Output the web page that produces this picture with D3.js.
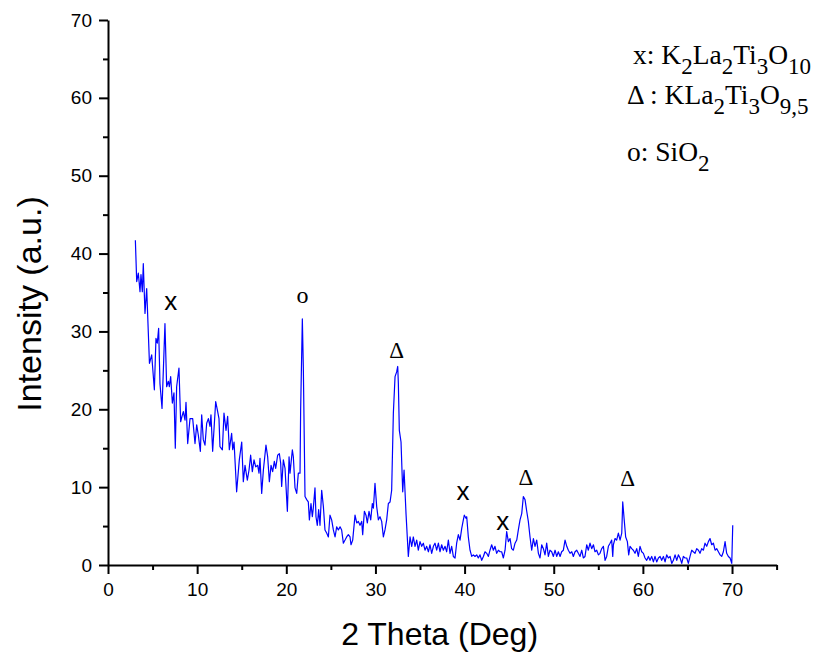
<!DOCTYPE html>
<html>
<head>
<meta charset="utf-8">
<script src="https://cdn.jsdelivr.net/npm/d3@7"></script>
<style>
  body { margin: 0; background: #fff; }
  svg { display: block; }
  .axis path, .axis line { stroke: #000; stroke-width: 2px; }
  .axis text { font-family: "Liberation Sans", Arial, sans-serif; font-size: 19px; fill: #000; }
  .title { font-family: "Liberation Sans", Arial, sans-serif; font-size: 32px; fill: #000; }
  .legend { font-family: "Liberation Serif", "Times New Roman", serif; font-size: 27.5px; fill: #000; }
  .trace { fill: none; stroke: #0000ff; stroke-width: 1.2px; stroke-linejoin: round; }
</style>
</head>
<body>
<svg id="chart" width="821" height="657"></svg>
<script>
// XRD pattern
const twoTheta = [
  3.07,3.22,3.40,3.59,3.70,3.85,3.96,4.15,4.34,4.65,4.90,5.20,5.38,5.53,5.68,5.83,6.06,6.39,6.58,6.77,
  6.88,7.03,7.22,7.40,7.55,7.70,7.96,8.15,8.30,8.45,8.64,8.75,8.94,9.20,9.50,9.76,9.95,10.13,10.36,10.51,
  10.69,10.88,11.07,11.26,11.44,11.55,11.74,12.08,12.27,12.45,12.56,12.83,13.01,13.24,13.42,13.61,
  13.87,13.99,14.14,14.43,14.73,15.00,15.18,15.37,15.63,15.82,16.00,16.19,16.38,16.57,16.79,16.94,17.05,17.24,17.43,17.72,
  17.91,18.10,18.29,18.47,18.66,18.81,19.03,19.22,19.37,19.48,19.67,19.86,20.12,20.31,20.42,20.68,20.79,20.98,21.17,21.35,
  21.54,21.61,21.80,21.91,22.10,22.29,22.47,22.59,22.77,22.92,23.03,23.22,23.33,23.48,23.63,23.78,23.97,24.16,24.34,24.53,
  24.72,24.90,25.09,25.28,25.47,25.65,25.84,26.03,26.21,26.40,26.59,26.77,
  26.96,27.15,27.26,27.45,27.71,27.90,28.08,28.27,28.46,28.57,28.76,28.94,29.09,29.28,29.47,29.65,29.77,29.95,30.14,30.33,
  30.51,30.70,30.89,31.07,31.26,31.45,31.64,31.82,32.01,32.20,32.38,32.50,32.57,32.68,32.87,33.06,33.21,33.43,33.69,33.88,
  34.07,34.25,34.44,34.63,34.81,35.00,35.19,35.37,35.56,35.75,35.94,36.12,36.31,36.50,36.68,36.87,37.06,37.24,37.43,37.62,
  37.81,37.99,38.18,38.37,38.55,38.74,38.93,39.11,39.30,
  39.49,39.68,39.86,39.97,40.16,40.24,40.42,40.61,40.80,40.98,41.17,41.36,41.54,41.73,41.92,42.11,42.29,42.48,42.67,42.85,
  43.04,43.23,43.41,43.60,43.79,43.98,44.16,44.35,44.54,44.72,44.91,45.10,45.28,45.47,45.66,45.85,46.03,46.22,46.41,46.59,
  46.78,46.97,47.15,47.34,47.53,47.72,47.90,48.09,48.28,48.46,48.65,48.84,49.02,49.21,49.40,49.58,49.77,49.96,50.15,50.33,
  50.52,50.71,50.89,51.08,51.27,51.46,51.64,51.83,52.02,52.20,52.39,52.58,52.76,52.95,53.14,53.32,53.51,53.70,53.88,54.07,
  54.26,54.45,54.63,54.82,55.01,
  55.19,55.38,55.57,55.76,55.94,56.13,56.32,56.50,56.62,56.69,56.88,57.06,57.25,57.44,57.63,57.74,57.89,58.07,58.26,58.41,
  58.56,58.75,58.93,59.12,59.31,59.49,59.68,59.87,60.06,60.24,60.43,60.62,60.80,60.99,61.18,61.36,61.55,61.74,61.93,62.11,
  62.30,62.49,62.67,62.86,63.05,63.24,63.42,63.61,63.80,63.98,64.17,64.36,64.54,64.73,64.92,65.10,65.29,65.48,65.66,65.85,
  66.04,66.23,66.41,66.60,66.79,66.97,67.16,67.35,67.53,67.72,67.91,68.10,68.28,68.47,68.66,68.84,69.03,69.22,69.40,69.59,
  69.78,69.97,70.08
];
const intensity = [
  41.7,36.4,37.5,35.1,37.3,35.1,38.7,32.3,35.5,25.9,27.0,22.5,29.1,28.5,30.4,23.3,20.1,31.0,22.9,23.6,
  22.9,24.2,20.8,22.1,15.0,22.9,25.3,18.4,19.1,19.7,18.6,20.9,15.6,18.8,18.8,15.6,18.0,16.7,14.6,19.3,
  16.1,15.4,18.2,18.8,17.8,19.3,14.6,21.0,19.9,18.8,15.2,14.8,19.5,17.3,19.1,14.8,
  16.9,14.8,15.8,9.4,13.5,15.8,10.7,12.8,10.9,12.2,14.1,12.0,13.5,12.6,12.8,11.8,13.7,9.2,12.2,15.4,
  13.9,10.7,12.8,12.0,13.3,12.4,14.1,14.3,13.1,10.1,13.5,12.4,6.9,13.9,11.8,14.8,13.9,9.9,9.2,11.8,
  11.8,19.9,31.6,25.5,8.8,8.4,8.1,5.8,7.9,6.2,7.3,9.9,6.2,5.1,7.1,5.1,9.6,7.5,4.5,4.1,
  3.6,6.4,5.8,4.5,3.6,4.9,4.5,4.9,4.5,2.8,3.2,3.6,
  3.9,3.6,2.6,3.2,6.4,5.4,5.6,5.1,5.6,3.9,6.9,6.4,5.4,6.9,5.8,7.9,7.3,10.5,7.5,5.8,
  6.2,5.6,3.6,4.5,5.8,7.9,8.1,9.6,19.5,24.2,24.8,25.5,23.3,17.3,15.8,9.4,12.2,6.6,1.1,3.6,
  2.4,3.6,2.4,3.2,1.9,3.0,2.4,2.8,1.9,2.4,1.7,2.6,1.5,2.4,2.8,1.9,2.8,1.7,2.6,1.9,
  2.4,1.7,3.2,1.5,2.4,1.1,0.9,2.8,3.9,
  3.2,4.7,5.8,6.4,6.0,6.2,3.6,1.9,1.1,1.3,1.1,1.3,0.9,1.3,0.6,1.1,1.7,1.5,1.1,1.9,
  2.6,1.9,2.4,1.5,1.9,1.7,1.7,0.9,1.9,4.3,3.0,3.4,2.1,1.9,2.8,3.2,4.5,5.8,6.6,8.8,
  8.4,6.9,5.6,3.6,1.9,3.4,2.4,3.2,1.5,0.9,2.6,2.1,1.3,2.8,1.1,1.9,1.7,1.1,1.9,1.1,
  1.7,1.1,1.7,1.9,3.2,2.4,1.9,1.5,1.7,1.1,1.7,1.9,1.5,1.1,1.9,0.9,1.1,2.6,1.9,2.8,
  2.1,2.6,1.7,1.9,1.3,
  1.5,2.1,2.4,0.6,1.1,2.4,2.8,3.2,1.1,2.6,3.4,3.2,4.1,3.2,4.1,8.1,6.0,3.6,3.0,1.3,
  2.4,2.1,1.9,1.5,2.1,1.1,2.4,1.7,1.5,0.9,0.6,1.1,0.6,1.1,0.4,1.1,0.4,0.9,1.1,0.6,
  1.1,0.4,1.3,0.9,1.1,0.2,0.6,1.3,0.6,1.3,0.9,0.2,1.1,0.9,0.9,0.2,1.1,1.9,1.7,1.5,
  2.1,1.9,1.5,2.1,1.9,2.8,2.4,3.0,3.4,2.6,2.8,1.9,2.1,1.7,1.3,1.1,1.7,3.0,1.5,1.1,
  0.9,0.2,5.1
];

const xTicks = [0, 10, 20, 30, 40, 50, 60, 70];
const xMinorTicks = [5, 15, 25, 35, 45, 55, 65, 75];
const yTicks = [0, 10, 20, 30, 40, 50, 60, 70];
const yMinorTicks = [5, 15, 25, 35, 45, 55, 65];

// phase markers above the peaks
const peakSymbols = ["x", "o", "\u0394", "x", "x", "\u0394", "\u0394"];
const peakTheta = [7.05, 21.82, 32.38, 39.82, 44.28, 46.89, 58.28];
const peakLevel = [33.6, 34.3, 27.5, 9.2, 5.4, 11.3, 11.1];

// legend lines: even items normal, odd items subscript
const legendLines = [
  ["x: K", "2", "La", "2", "Ti", "3", "O", "10"],
  ["\u0394 : KLa", "2", "Ti", "3", "O", "9,5"],
  ["o: SiO", "2"]
];

const margin = {top: 20, right: 44.4, bottom: 92, left: 108};
const W = 821, H = 657;
const width = W - margin.left - margin.right;
const height = H - margin.top - margin.bottom;

const svg = d3.select("#chart");
const chart = svg.append("g").attr("transform", "translate(" + margin.left + "," + margin.top + ")");

const x = d3.scaleLinear().domain([0, 75]).range([0, width]);
const y = d3.scaleLinear().domain([0, 70]).range([height, 0]);

// axes
chart.append("g").attr("class", "axis")
    .attr("transform", "translate(0," + height + ")")
    .call(d3.axisBottom(x).tickValues(xMinorTicks).tickSize(5).tickFormat(""))
    .select(".domain").remove();
chart.append("g").attr("class", "axis")
    .call(d3.axisLeft(y).tickValues(yMinorTicks).tickSize(5).tickFormat(""))
    .select(".domain").remove();

chart.append("g").attr("class", "x axis")
    .attr("transform", "translate(0," + height + ")")
    .call(d3.axisBottom(x).tickValues(xTicks).tickSize(9).tickSizeOuter(0).tickPadding(9));
chart.append("g").attr("class", "y axis")
    .call(d3.axisLeft(y).tickValues(yTicks).tickSize(9).tickSizeOuter(0).tickPadding(7));

// trace
const pts = twoTheta.map((t, i) => [t, intensity[i]]);
chart.append("path")
    .datum(pts)
    .attr("class", "trace")
    .attr("d", d3.line().x(d => x(d[0])).y(d => y(d[1])));

// peak markers
const markerStyle = {
  "x": {font: '"Liberation Sans", Arial, sans-serif', size: 26, dy: "0.27em"},
  "o": {font: '"Liberation Serif", "Times New Roman", serif', size: 24, dy: "0.23em"},
  "\u0394": {font: '"Liberation Serif", "Times New Roman", serif', size: 23, dy: "0.33em"}
};
chart.selectAll("text.peak")
    .data(peakSymbols)
    .enter().append("text")
    .attr("class", "peak")
    .attr("x", (d, i) => x(peakTheta[i]))
    .attr("y", (d, i) => y(peakLevel[i]))
    .attr("dy", d => markerStyle[d].dy)
    .attr("text-anchor", "middle")
    .style("font-family", d => markerStyle[d].font)
    .style("font-size", d => markerStyle[d].size + "px")
    .text(d => d);

// titles
svg.append("text").attr("class", "title")
    .attr("x", margin.left + x(37.2)).attr("y", 645)
    .attr("text-anchor", "middle")
    .text("2 Theta (Deg)");
svg.append("text").attr("class", "title")
    .attr("transform", "translate(41,304) rotate(-90)")
    .attr("text-anchor", "middle")
    .style("font-size", "34px")
    .text("Intensity (a.u.)");

// legend
const legendX = [633, 627, 627];
const legendY = [64, 104, 161];
legendLines.forEach((parts, li) => {
  const t = svg.append("text").attr("class", "legend")
      .attr("x", legendX[li]).attr("y", legendY[li]);
  parts.forEach((p, j) => {
    const sub = j % 2 === 1;
    t.append("tspan")
        .attr("dy", j === 0 ? 0 : (sub ? 10 : -10))
        .style("font-size", sub ? "23px" : "27.5px")
        .text(p);
  });
});
</script>
</body>
</html>
